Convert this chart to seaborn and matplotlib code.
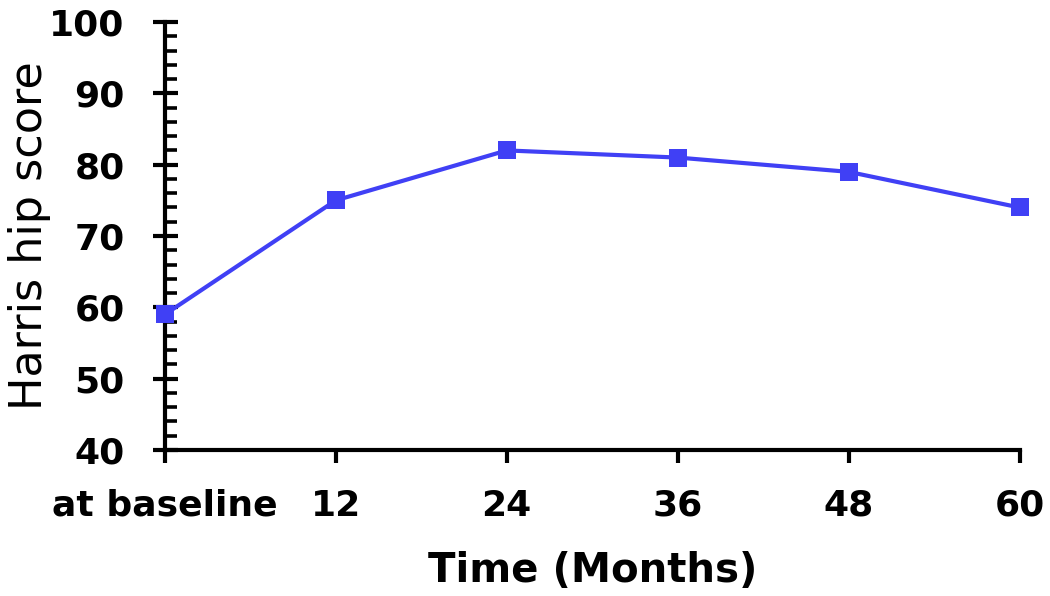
import matplotlib
matplotlib.use("Agg")
import matplotlib.pyplot as plt
import seaborn as sns
import pandas as pd
from matplotlib.ticker import MultipleLocator

categories = ["at baseline", "12", "24", "36", "48", "60"]
scores = [59, 75, 82, 81, 79, 74]

sns.set_theme(style="white")
plt.rcParams['font.family'] = ['DejaVu Sans']
plt.rcParams['text.color'] = 'black'
plt.rcParams['axes.labelcolor'] = 'black'
plt.rcParams['xtick.color'] = 'black'
plt.rcParams['ytick.color'] = 'black'

df = pd.DataFrame({"pos": list(range(len(categories))), "score": scores})

fig = plt.figure(figsize=(10.5, 5.96), dpi=100)
ax = fig.add_axes([0.157, 0.245, 0.814, 0.718])

sns.lineplot(data=df, x="pos", y="score", ax=ax, color="#4040F5",
             linewidth=3, marker="s", markersize=13, markeredgewidth=0,
             clip_on=False, zorder=5)

ax.set_xlim(0, len(categories) - 1)
ax.set_ylim(40, 100)
ax.set_xticks(range(len(categories)))
ax.set_xticklabels(categories)
ax.yaxis.set_major_locator(MultipleLocator(10))
ax.yaxis.set_minor_locator(MultipleLocator(2))

for s in ["top", "right"]:
    ax.spines[s].set_visible(False)
for s in ["left", "bottom"]:
    ax.spines[s].set_color("black")
    ax.spines[s].set_linewidth(3)

ax.tick_params(axis="y", which="major", direction="inout", length=18, width=3,
               labelsize=26, pad=20, left=True, colors="black")
ax.tick_params(axis="y", which="minor", direction="in", length=8.5, width=2.6, left=True,
               colors="black")
ax.tick_params(axis="x", which="major", direction="out", length=9, width=3,
               labelsize=26, pad=19, bottom=True, colors="black")
for lbl in ax.get_xticklabels() + ax.get_yticklabels():
    lbl.set_fontweight("bold")

ax.set_xlabel("Time (Months)", fontsize=29, fontweight="bold", color="black")
ax.set_ylabel("Harris hip score", fontsize=32, color="black")
ax.yaxis.label.set_va("center")
ax.xaxis.label.set_va("center")
ax.yaxis.set_label_coords(-0.158, 0.5)
ax.xaxis.set_label_coords(0.5, -0.283)

fig.savefig("out.png", dpi=100, facecolor="white")
